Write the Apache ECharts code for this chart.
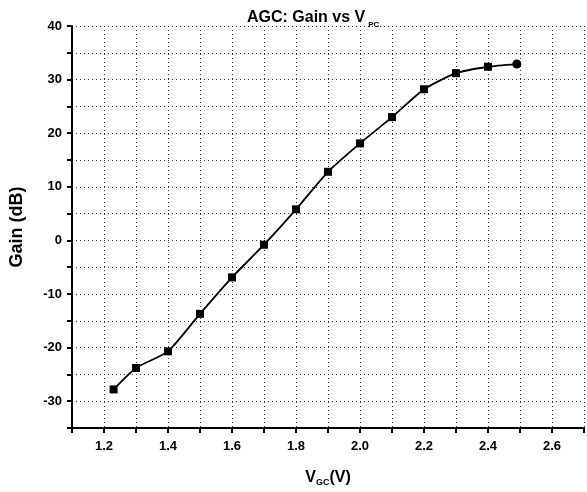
<!DOCTYPE html>
<html>
<head>
<meta charset="utf-8">
<script src="https://cdn.jsdelivr.net/npm/echarts@6/dist/echarts.min.js"></script>
<style>
  html, body { margin: 0; padding: 0; background: #fff; }
  #chart { width: 587px; height: 492px; }
</style>
</head>
<body>
<div id="chart"></div>
<script>
// Control voltage (V) and measured AGC gain (dB)
const vgc  = [1.23, 1.3, 1.4, 1.5, 1.6, 1.7, 1.8, 1.9, 2.0, 2.1, 2.2, 2.3, 2.4, 2.49];
const gain = [-27.8, -23.8, -20.7, -13.7, -6.9, -0.8, 5.8, 12.8, 18.1, 23.0, 28.2, 31.2, 32.4, 32.9];

const FONT = '"Liberation Sans", Arial, sans-serif';

const points = vgc.map((v, i) => {
  const p = { value: [v, gain[i]] };
  if (i === vgc.length - 1) { p.symbol = 'circle'; p.symbolSize = 9; }
  return p;
});

const gridLine = { show: true, lineStyle: { color: '#333', width: 1, type: [1, 3] } };

const chart = echarts.init(document.getElementById('chart'), null, { renderer: 'canvas' });
chart.setOption({
  backgroundColor: '#fff',
  animation: false,
  title: {
    text: '{a|AGC: Gain vs V}{s|PC}',
    left: 242,
    top: 2,
    textStyle: {
      rich: {
        a: { fontFamily: FONT, fontWeight: 'bold', fontSize: 16, color: '#000' },
        s: { fontFamily: FONT, fontWeight: 'bold', fontSize: 8, color: '#000', padding: [14, 0, 0, 3] }
      }
    }
  },
  grid: { left: 72, top: 26, right: -7, bottom: 64, containLabel: false },
  xAxis: {
    type: 'value',
    min: 1.1,
    max: 2.7,
    interval: 0.1,
    name: '{v|V}{s|GC}{v|(V)}',
    nameLocation: 'middle',
    nameGap: 40,
    nameTextStyle: {
      rich: {
        v: { fontFamily: FONT, fontWeight: 'bold', fontSize: 16, color: '#000' },
        s: { fontFamily: FONT, fontWeight: 'bold', fontSize: 9, color: '#000', padding: [10, 0, 0, 0] }
      }
    },
    axisLine: { show: true, onZero: false, lineStyle: { color: '#000', width: 2 } },
    axisTick: { show: true, inside: false, length: 5, lineStyle: { color: '#000', width: 2 } },
    axisLabel: {
      margin: 12,
      fontFamily: FONT, fontWeight: 'bold', fontSize: 13, color: '#000',
      formatter: v => {
        const k = Math.round(v * 10);
        return (k % 2 === 0 && k >= 12 && k <= 26) ? (k / 10).toFixed(1) : '';
      }
    },
    splitLine: gridLine
  },
  yAxis: {
    type: 'value',
    min: -35,
    max: 40,
    interval: 5,
    name: 'Gain (dB)',
    nameLocation: 'middle',
    nameRotate: 90,
    nameGap: 46,
    nameTextStyle: { fontFamily: FONT, fontWeight: 'bold', fontSize: 18, color: '#000' },
    axisLine: { show: true, onZero: false, lineStyle: { color: '#000', width: 2 } },
    axisTick: { show: true, inside: false, length: 5, lineStyle: { color: '#000', width: 2 } },
    axisLabel: {
      margin: 10,
      fontFamily: FONT, fontWeight: 'bold', fontSize: 13, color: '#000',
      formatter: v => (Math.round(v) % 10 === 0 ? String(Math.round(v)) : '')
    },
    splitLine: gridLine
  },
  series: [{
    type: 'line',
    data: points,
    smooth: 0.2,
    symbol: 'rect',
    symbolSize: 8,
    showAllSymbol: true,
    lineStyle: { color: '#000', width: 1.8 },
    itemStyle: { color: '#000' }
  }]
});
</script>
</body>
</html>
